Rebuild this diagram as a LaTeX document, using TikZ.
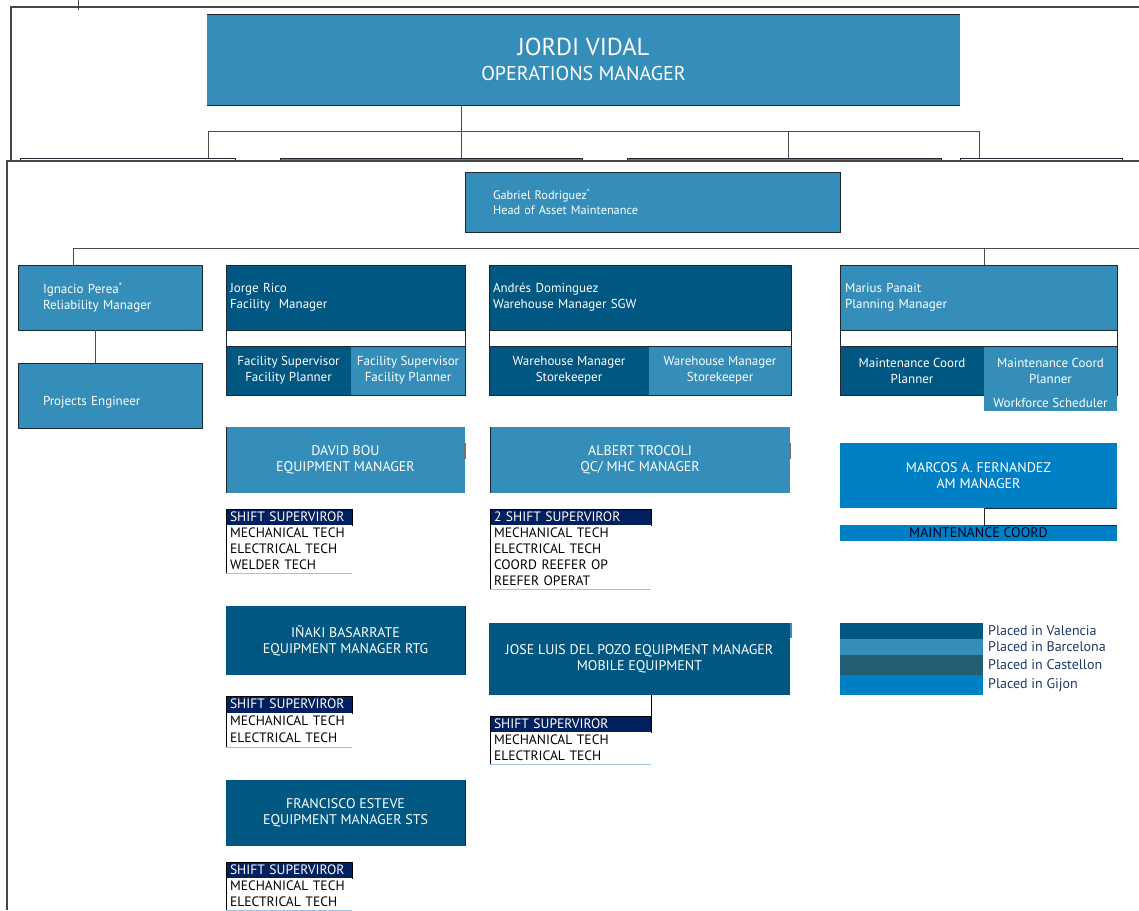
\documentclass[tikz,border=0pt]{standalone}
\usepackage{fontspec}
\setmainfont{PT Sans}
\definecolor{cLight}{RGB}{52,142,185}
\definecolor{cDark}{RGB}{0,87,130}
\definecolor{cCast}{RGB}{35,94,117}
\definecolor{cGijon}{RGB}{0,128,196}
\definecolor{cNavy}{RGB}{0,32,96}
\definecolor{cRowLine}{RGB}{157,195,230}
\definecolor{cLegText}{RGB}{31,56,100}
\definecolor{cFrame}{RGB}{70,70,70}
\definecolor{cBorder}{RGB}{30,40,50}
\newcommand\rbox[7]{%
  \pgfmathsetmacro\rbw{#4-#2}\pgfmathsetmacro\rbh{#5-#3}%
  \node[base,#6,minimum width=\rbw pt,minimum height=\rbh pt,anchor=north west] (#1) at (#2,#3) {#7};}
\newcommand\crewtab[7]{% name, x, y, width, row height, header, rows
  \pgfmathsetmacro\ctw{#4-8}%
  \node[base,thead,minimum width=#4pt,minimum height=#5pt,text width=\ctw pt,anchor=north west] (#1-0) at (#2,#3) {\mbox{#6}};
  \foreach \r [count=\i, remember=\i as \j (initially 0)] in {#7} {
    \node[base,trow,minimum width=#4pt,minimum height=#5pt,text width=\ctw pt,anchor=north west] (#1-\i) at (#1-\j.south west) {\mbox{\r}};
    \draw[rowline] (#1-\i.south west) -- (#1-\i.south east);
    \draw[tedge] (#1-\i.north west) -- (#1-\i.south west);
  }}
\begin{document}
\begin{tikzpicture}[x=1pt,y=-1pt,
  base/.style={inner sep=0pt,outer sep=0pt,rectangle},
  frame/.style={draw=cFrame,line width=1.4pt},
  conn/.style={draw=black!70,line width=0.9pt},
  bordered/.style={draw=cBorder,line width=0.9pt},
  edge/.style={draw=cBorder,line width=1pt},
  notch/.style={draw=black!55,line width=1.2pt},
  small/.style={font=\fontsize{12.3}{15}\selectfont},
  mid/.style={font=\fontsize{13}{16}\selectfont},
  caps/.style={font=\fontsize{14}{16}\selectfont},
  wtxt/.style={text=white},
  thead/.style={fill=cNavy,draw=black,line width=0.8pt,text=white,align=left,inner xsep=4pt,
    font=\fontsize{13.6}{16}\selectfont,text height=9.5pt,text depth=1.5pt},
  trow/.style={fill=white,text=black,align=left,inner xsep=4pt,
    font=\fontsize{13.6}{16}\selectfont,text height=9.5pt,text depth=1.5pt},
  rowline/.style={draw=cRowLine,line width=1pt},
  tedge/.style={draw=black,line width=0.9pt},
  legtext/.style={text=cLegText,font=\fontsize{14}{16}\selectfont,inner xsep=5pt,inner ysep=0pt,anchor=west}]
\useasboundingbox (0,0) rectangle (1139,910);

% frames
\draw[frame] (11,161) -- (11,7) -- (1139,7);
\draw[line width=0.8pt,draw=cFrame] (78,0) -- (78,10);

% top level
\rbox{jordi}{207}{14}{960}{105}{fill=cLight,wtxt,align=center}{\fontsize{24.5}{26}\selectfont JORDI VIDAL\\[10pt]\fontsize{20}{22}\selectfont OPERATIONS MANAGER}
\draw[edge,line width=0.8pt] (jordi.north west) -- (jordi.north east);
\draw[edge,line width=0.8pt] (jordi.south west) -- (jordi.south east);

\rbox{t1}{20}{158}{235}{161}{fill=white,bordered,line width=0.7pt}{}
\rbox{t2}{280}{158}{582}{161}{fill=cLight,bordered,line width=0.7pt}{}
\rbox{t3}{627}{158}{941}{161}{fill=cLight,bordered,line width=0.7pt}{}
\rbox{t4}{960}{158}{1122}{161}{fill=white,bordered,line width=0.7pt}{}

\coordinate (busL) at (208,131);
\coordinate (busR) at (979,131);
\coordinate (busM) at (788,131);
\coordinate (busJ) at (461,131);
\draw[conn] (jordi.south -| busJ) -- (busJ);
\draw[conn] (busL) -- (busR);
\draw[conn] (busL) -- (busL |- t1.north);
\draw[conn] (busJ) -- (busJ |- t2.north);
\draw[conn] (busM) -- (busM |- t3.north);
\draw[conn] (busR) -- (busR |- t4.north);

\draw[frame] (7,910) -- (7,161) -- (1139,161);

% Gabriel
\rbox{gabriel}{465}{172}{840}{232}{fill=cLight,bordered,wtxt,small,align=left,inner xsep=28pt,text width=319pt}{Gabriel Rodriguez\textsuperscript{*}\\Head of Asset Maintenance}

\coordinate (gbusL) at (73,248);
\coordinate (gbusR) at (1139,248);
\coordinate (gbusM) at (984,248);
\draw[conn] (gbusL) -- (gbusR);

% Ignacio / Projects
\rbox{ignacio}{18}{265}{202}{330}{fill=cLight,bordered,wtxt,mid,align=left,inner xsep=25pt,text width=134pt}{Ignacio Perea\textsuperscript{*}\\Reliability Manager}
\rbox{projects}{18}{363}{202}{428}{fill=cLight,bordered,wtxt,mid,align=left,inner xsep=25pt,text width=134pt}{\mbox{}\\[6pt]Projects Engineer}
\coordinate (ipx) at (95,0);
\draw[conn] (gbusL) -- (gbusL |- ignacio.north);
\draw[conn] (ignacio.south -| ipx) -- (projects.north -| ipx);

% Jorge Rico group
\rbox{jorge}{226}{265}{465}{330}{fill=cDark,bordered,wtxt,mid,align=left,inner xsep=4pt,text width=231pt}{Jorge Rico\\Facility~ Manager}
\rbox{jorgegap}{226}{330}{465}{346}{fill=white,bordered}{}
\rbox{jorgeA}{226}{346}{351}{395}{fill=cDark,wtxt,mid,align=center}{Facility Supervisor\\Facility Planner}
\rbox{jorgeB}{351}{346}{465}{395}{fill=cLight,wtxt,mid,align=center}{Facility Supervisor\\Facility Planner}
\draw[bordered,fill=none] (jorgeA.north west) rectangle (jorgeB.south east);

% Andres group
\rbox{andres}{489}{265}{791}{330}{fill=cDark,bordered,wtxt,mid,align=left,inner xsep=4pt,text width=294pt}{Andrés Dominguez\\Warehouse Manager SGW}
\rbox{andresgap}{489}{330}{791}{346}{fill=white,bordered}{}
\rbox{andresA}{489}{346}{649}{395}{fill=cDark,wtxt,mid,align=center}{Warehouse Manager\\Storekeeper}
\rbox{andresB}{649}{346}{791}{395}{fill=cLight,wtxt,mid,align=center}{Warehouse Manager\\Storekeeper}
\draw[bordered,fill=none] (andresA.north west) rectangle (andresB.south east);

% Marius group
\rbox{marius}{840}{265}{1117}{330}{fill=cLight,bordered,wtxt,mid,align=left,inner xsep=5pt,text width=267pt}{Marius Panait\\Planning Manager}
\rbox{mariusgap}{840}{330}{1117}{346}{fill=white,bordered}{}
\rbox{mariusA}{840}{346}{984}{395}{fill=cDark,wtxt,mid,align=center}{Maintenance Coord\\Planner}
\rbox{mariusB}{984}{346}{1117}{395}{fill=cLight,wtxt,mid,align=center}{Maintenance Coord\\Planner}
\draw[bordered,fill=none] (mariusA.north west) rectangle (mariusB.south east);
\rbox{workforce}{984}{395}{1117}{411}{fill=cLight,wtxt,mid,align=center}{Workforce Scheduler}
\draw[conn] (gbusM) -- (gbusM |- marius.north);

% equipment managers
\rbox{david}{226}{427}{465}{493}{fill=cLight,wtxt,caps,align=center}{DAVID BOU\\EQUIPMENT MANAGER}
\draw[edge] (david.north west) -- (david.south west);
\draw[notch] ([yshift=-16pt]david.north east) -- ([yshift=-32pt]david.north east);
\crewtab{dbt}{226}{509}{126}{16}{SHIFT SUPERVIROR}{MECHANICAL TECH,ELECTRICAL TECH,WELDER TECH}

\rbox{albert}{490}{427}{790}{493}{fill=cLight,wtxt,caps,align=center}{ALBERT TROCOLI\\QC/ MHC MANAGER}
\draw[edge] (albert.north west) -- (albert.south west);
\draw[notch] ([yshift=-16pt]albert.north east) -- ([yshift=-32pt]albert.north east);
\crewtab{att}{490}{509}{161}{16}{2 SHIFT SUPERVIROR}{MECHANICAL TECH,ELECTRICAL TECH,COORD REEFER OP,REEFER OPERAT}

\rbox{marcos}{840}{443}{1117}{508}{fill=cGijon,wtxt,caps,align=center}{MARCOS A. FERNANDEZ\\AM MANAGER}
\rbox{mcoord}{840}{525}{1117}{541}{fill=cGijon,text=black!85!blue,caps,align=center}{MAINTENANCE COORD}
\coordinate (mcx) at (984,0);
\draw[conn,draw=cBorder] (mcoord.north -| mcx) -- (marcos.south -| mcx) -- (marcos.south east);
\draw[conn,draw=cBorder] (mcoord.north -| mcx) -- (mcoord.north east);

\rbox{inaki}{226}{606}{465}{675}{fill=cDark,wtxt,caps,align=center}{IÑAKI BASARRATE\\EQUIPMENT MANAGER RTG}
\draw[edge] (inaki.north east) -- (inaki.south east);
\crewtab{ibt}{226}{696}{126}{17}{SHIFT SUPERVIROR}{MECHANICAL TECH,ELECTRICAL TECH}

\rbox{jose}{489}{623}{790}{695}{fill=cDark,wtxt,caps,align=center}{JOSE LUIS DEL POZO EQUIPMENT MANAGER\\MOBILE EQUIPMENT}
\draw[notch,draw=cLight] ([xshift=1pt]jose.north east) -- ([xshift=1pt,yshift=-15pt]jose.north east);
\crewtab{jlt}{490}{716}{161}{16}{SHIFT SUPERVIROR}{MECHANICAL TECH,ELECTRICAL TECH}
\draw[conn,draw=black] (jlt-0.north east) -- (jlt-0.north east |- jose.south);

\rbox{francisco}{226}{780}{465}{846}{fill=cDark,wtxt,caps,align=center}{FRANCISCO ESTEVE\\EQUIPMENT MANAGER STS}
\draw[edge] (francisco.north east) -- (francisco.south east);
\crewtab{fet}{226}{862}{126}{16}{SHIFT SUPERVIROR}{MECHANICAL TECH,ELECTRICAL TECH}

% legend
\rbox{lv}{840}{623}{983}{639}{fill=cDark}{}
\rbox{lb}{840}{639}{983}{655}{fill=cLight}{}
\rbox{lc}{840}{655}{983}{675}{fill=cCast}{}
\rbox{lg}{840}{675}{983}{695}{fill=cGijon}{}
\node[legtext] (lvt) at (lv.east) {Placed in Valencia};
\node[legtext] (lbt) at (lb.east) {Placed in Barcelona};
\node[legtext] (lct) at (lc.east) {Placed in Castellon};
\node[legtext] (lgt) at (lg.east) {Placed in Gijon};
\end{tikzpicture}
\end{document}
